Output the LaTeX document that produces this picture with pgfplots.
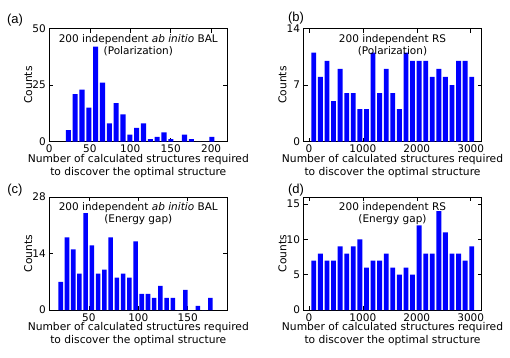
\documentclass[border=0pt]{standalone}
\usepackage{fontspec}
\setmainfont{DejaVu Sans}
\newfontfamily\panelfont{Liberation Sans}
\usepackage{pgfplots}
\pgfplotsset{compat=1.18}
\definecolor{mplblue}{RGB}{0,0,255}
\tikzset{ttl/.style={font=\fontsize{10.5}{12}\selectfont, align=center, anchor=north, yshift=-2pt}}
\pgfplotsset{
  panel/.style={
    scale only axis, width=178pt, height=113pt,
    anchor=south west,
    ymin=0, ybar, bar shift=0pt,
    tick align=inside,
    tick style={black, line width=0.5pt},
    major tick length=4pt,
    axis line style={line width=0.8pt},
    /pgf/number format/assume math mode=true,
    /pgf/number format/1000 sep={},
    scaled x ticks=false, scaled y ticks=false,
    ticklabel style={font=\fontsize{10.5}{12}\selectfont},
    xlabel={Number of calculated structures required\\to discover the optimal structure},
    xlabel style={font=\fontsize{10.7}{13}\selectfont, align=center,
      at={(axis description cs:0.5,0)}, anchor=north, yshift=-9pt},
    ylabel={Counts},
    ylabel style={font=\fontsize{10.7}{13}\selectfont,
      at={(axis description cs:-0.118,0.5)}, anchor=center},
  },
}
\begin{document}
\begin{tikzpicture}
\path[use as bounding box] (0,0) rectangle (510pt,357pt);
% (a)
\begin{axis}[panel, at={(49.3pt,215.5pt)}, xmin=0, xmax=220, ymax=50,
  xtick={0,50,100,150,200}, ytick={0,25,50}]
\addplot[fill=mplblue, draw=none, bar width=6.3] coordinates {
(23.5,5) (31.95,21) (40.4,23) (48.85,15) (57.3,42) (65.75,26) (74.2,8)
(82.65,17) (91.1,12) (99.55,3) (108.0,6) (116.45,8) (124.9,1) (133.35,2)
(141.8,4) (150.25,1) (158.7,0) (167.15,3) (175.6,1) (184.05,0) (192.5,0) (200.95,2)};
\node[ttl] at (rel axis cs:0.5,1) {200 independent \textit{ab initio} BAL\\(Polarization)};
\end{axis}
% (b)
\begin{axis}[panel, at={(303.5pt,215.5pt)}, xmin=-100, xmax=3200, ymax=14,
  xtick={0,1000,2000,3000}, ytick={0,7,14}]
\addplot[fill=mplblue, draw=none, bar width=90] coordinates {
(91,11) (213,8) (335,10) (457,5) (579,9) (701,6) (823,6) (945,4) (1067,4)
(1189,11) (1311,6) (1433,9) (1555,6) (1677,4) (1799,11) (1921,10) (2043,10)
(2165,10) (2287,8) (2409,9) (2531,8) (2653,7) (2775,10) (2897,10) (3019,8)};
\node[ttl] at (rel axis cs:0.5,1) {200 independent RS\\(Polarization)};
\end{axis}
% (c)
\begin{axis}[panel, at={(49.3pt,47pt)}, xmin=10, xmax=190, ymax=28,
  xtick={50,100,150}, ytick={0,14,28}]
\addplot[fill=mplblue, draw=none, bar width=4.6] coordinates {
(21.6,7) (27.9,18) (34.2,15) (40.5,9) (46.8,24) (53.1,16) (59.4,9) (65.7,10)
(72.0,18) (78.3,8) (84.6,9) (90.9,8) (97.2,17) (103.5,4) (109.8,4) (116.1,3)
(122.4,6) (128.7,3) (135.0,3) (141.3,0) (147.6,5) (153.9,0) (160.2,1) (166.5,0) (172.8,3)};
\node[ttl] at (rel axis cs:0.5,1) {200 independent \textit{ab initio} BAL\\(Energy gap)};
\end{axis}
% (d)
\begin{axis}[panel, at={(303.5pt,47pt)}, xmin=-100, xmax=3200, ymax=16,
  xtick={0,1000,2000,3000}, ytick={0,5,10,15}]
\addplot[fill=mplblue, draw=none, bar width=90] coordinates {
(91,7) (213,8) (335,7) (457,7) (579,9) (701,8) (823,9) (945,10) (1067,6)
(1189,7) (1311,7) (1433,8) (1555,6) (1677,5) (1799,6) (1921,5) (2043,12)
(2165,8) (2287,8) (2409,14) (2531,11) (2653,8) (2775,8) (2897,7) (3019,9)};
\node[ttl] at (rel axis cs:0.5,1) {200 independent RS\\(Energy gap)};
\end{axis}
\node[font=\panelfont\fontsize{13}{15}\selectfont] at (15pt,337pt) {(a)};
\node[font=\panelfont\fontsize{13}{15}\selectfont] at (296pt,338.5pt) {(b)};
\node[font=\panelfont\fontsize{13}{15}\selectfont] at (15pt,167pt) {(c)};
\node[font=\panelfont\fontsize{13}{15}\selectfont] at (296pt,167pt) {(d)};
\end{tikzpicture}
\end{document}
